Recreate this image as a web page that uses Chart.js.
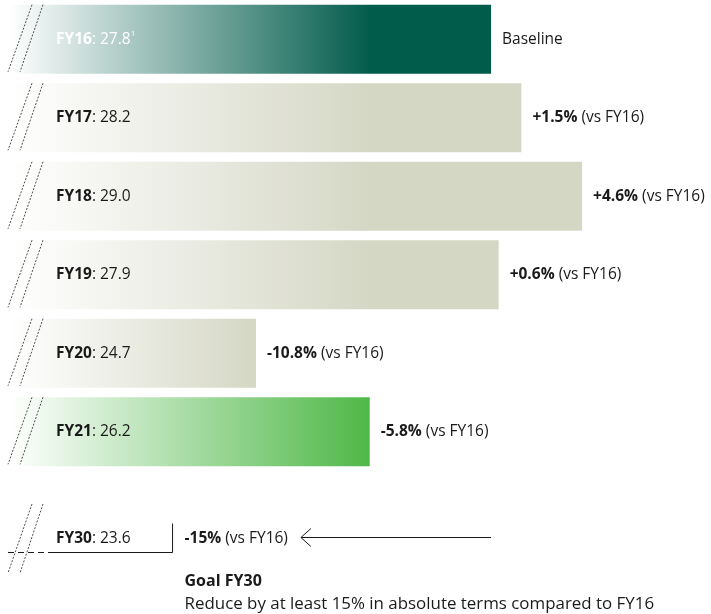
<!DOCTYPE html>
<html>
<head>
<meta charset="utf-8">
<script src="https://cdn.jsdelivr.net/npm/chart.js@4"></script>
<style>
  html, body { margin: 0; padding: 0; background: #fff; }
  #wrap { width: 711px; height: 614px; position: relative; }
</style>
</head>
<body>
<div id="wrap"><canvas id="chart"></canvas></div>
<script>
// data
const years = ['FY16', 'FY17', 'FY18', 'FY19', 'FY20', 'FY21'];
const values = [27.8, 28.2, 29.0, 27.9, 24.7, 26.2];
const changes = ['Baseline', '+1.5%', '+4.6%', '+0.6%', '-10.8%', '-5.8%'];
const barColors = ['#025c4c', '#d5d7c5', '#d5d7c5', '#d5d7c5', '#d5d7c5', '#4fb848'];
const goalYear = 'FY30';
const goalValue = 23.6;
const goalChange = '-15%';
const goalTitle = 'Goal FY30';
const goalText = 'Reduce by at least 15% in absolute terms compared to FY16';

const FONT = "'Open Sans', 'Noto Sans', sans-serif";
const SIZE = 15.5;

function barFill(ctx) {
  const chart = ctx.chart;
  const area = chart.chartArea;
  const i = ctx.dataIndex;
  if (!area || ctx.type !== 'data') return barColors[i];
  const right = chart.scales.x.getPixelForValue(values[i]);
  const end = Math.min(right, 370);
  const g = chart.ctx.createLinearGradient(area.left + 10, 0, end, 0);
  g.addColorStop(0, '#ffffff');
  g.addColorStop(1, barColors[i]);
  return g;
}

// draws "bold: regular" pieces side by side, returns end x
function drawParts(c, parts, x, y, color) {
  c.fillStyle = color;
  c.textBaseline = 'middle';
  c.textAlign = 'left';
  parts.forEach(p => {
    c.font = (p.bold ? 'bold ' : '') + (p.size || SIZE) + 'px ' + FONT;
    c.fillText(p.text, x, y + (p.dy || 0));
    x += c.measureText(p.text).width;
  });
  return x;
}

function drawSlashes(c, top, bottom) {
  c.save();
  c.strokeStyle = '#222';
  c.lineWidth = 0.8;
  c.setLineDash([2, 1.5]);
  [[32, 8], [43, 20]].forEach(([xt, xb]) => {
    c.beginPath();
    c.moveTo(xt, top);
    c.lineTo(xb, bottom);
    c.stroke();
  });
  c.restore();
}

const labelPlugin = {
  id: 'labels',
  afterDatasetsDraw(chart) {
    const c = chart.ctx;
    const meta = chart.getDatasetMeta(0);
    const xs = chart.scales.x;
    c.save();
    meta.data.forEach((el, i) => {
      const top = el.y - el.height / 2;
      const bottom = el.y + el.height / 2;
      drawSlashes(c, top, bottom - 2);
      const color = i === 0 ? '#ffffff' : '#1a1a1a';
      const parts = [
        { text: years[i], bold: true },
        { text: ': ' + values[i].toFixed(1) }
      ];
      if (i === 0) parts.push({ text: '1', size: 8, dy: -6 });
      drawParts(c, parts, 56, el.y, color);
      const rx = el.x + 11;
      if (i === 0) {
        drawParts(c, [{ text: changes[i] }], rx, el.y, '#1a1a1a');
      } else {
        drawParts(c, [{ text: changes[i], bold: true }, { text: ' (vs FY16)' }], rx, el.y, '#1a1a1a');
      }
    });

    // goal row below the chart area
    const step = meta.data[1].y - meta.data[0].y;
    const last = meta.data[meta.data.length - 1];
    const gy = last.y + step * 1.36;
    const half = last.height / 2;
    const gx = xs.getPixelForValue(goalValue);
    drawSlashes(c, gy - half, gy + half);
    c.strokeStyle = '#1a1a1a';
    c.lineWidth = 1;
    c.setLineDash([6, 4]);
    c.beginPath();
    c.moveTo(8, gy + 14);
    c.lineTo(50, gy + 14);
    c.stroke();
    c.setLineDash([]);
    c.beginPath();
    c.moveTo(50, gy + 14);
    c.lineTo(gx, gy + 14);
    c.lineTo(gx, gy - 15);
    c.stroke();
    drawParts(c, [{ text: goalYear, bold: true }, { text: ': ' + goalValue.toFixed(1) }], 56, gy, '#1a1a1a');
    const tx = gx + 12;
    const end = drawParts(c, [{ text: goalChange, bold: true }, { text: ' (vs FY16)' }], tx, gy, '#1a1a1a');
    // arrow pointing back from the baseline bar end
    const ax = end + 13;
    const bx = meta.data[0].x;
    c.beginPath();
    c.moveTo(bx, gy - 1);
    c.lineTo(ax, gy - 1);
    c.moveTo(ax + 10, gy - 10);
    c.lineTo(ax, gy - 1);
    c.lineTo(ax + 10, gy + 8);
    c.stroke();
    drawParts(c, [{ text: goalTitle, bold: true, size: 16 }], tx, gy + 43, '#1a1a1a');
    drawParts(c, [{ text: goalText, size: 16.9 }], tx, gy + 66, '#1a1a1a');
    c.restore();
  }
};

new Chart(document.getElementById('chart'), {
  type: 'bar',
  data: {
    labels: years,
    datasets: [{
      data: values,
      backgroundColor: barFill,
      borderWidth: 0,
      categoryPercentage: 1,
      barPercentage: 0.88
    }]
  },
  options: {
    indexAxis: 'y',
    responsive: true,
    maintainAspectRatio: false,
    animation: false,
    layout: { padding: { top: 0, bottom: 143, left: 0, right: 0 } },
    scales: {
      x: { display: false, min: 21.325, max: 30.70 },
      y: { display: false }
    },
    plugins: {
      legend: { display: false },
      tooltip: { enabled: false }
    }
  },
  plugins: [labelPlugin]
});
</script>
</body>
</html>
